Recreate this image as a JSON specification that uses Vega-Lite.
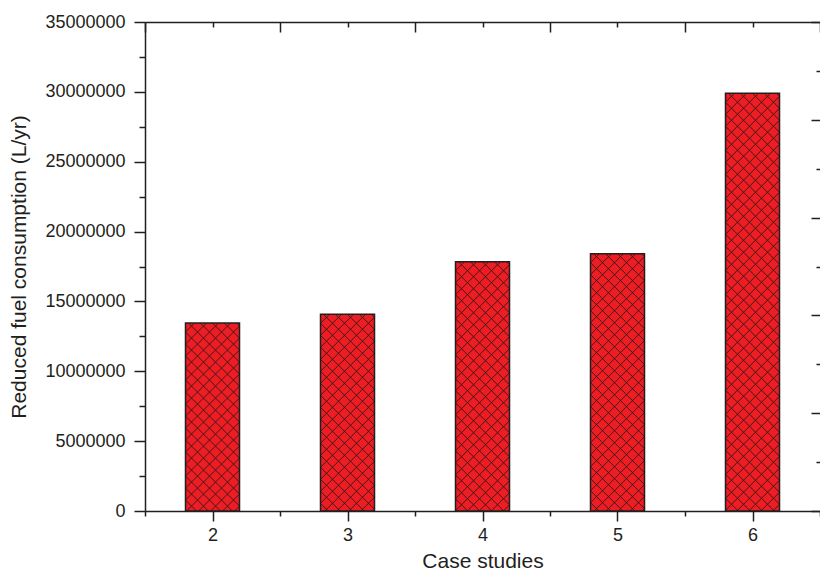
{
  "$schema": "https://vega.github.io/schema/vega-lite/v6.json",
  "autosize": "none",
  "width": 675,
  "height": 489,
  "padding": {"left": 145, "top": 22, "right": 0, "bottom": 66},
  "background": "white",
  "config": {"view": {"stroke": null}},
  "data": {"values": [
    {"case": 2, "fuel": 13450000},
    {"case": 3, "fuel": 14080000},
    {"case": 4, "fuel": 17840000},
    {"case": 5, "fuel": 18420000},
    {"case": 6, "fuel": 29900000}
  ]},
  "resolve": {"axis": {"x": "independent", "y": "independent"}},
  "layer": [
    {
      "mark": {"type": "bar", "width": 54, "fill": "#EE1D23", "stroke": null},
      "encoding": {
        "x": {"field": "case", "type": "quantitative",
          "scale": {"domain": [1.5, 6.5], "nice": false, "zero": false, "padding": 0},
          "axis": {"orient": "bottom", "values": [1.5, 2, 2.5, 3, 3.5, 4, 4.5, 5, 5.5, 6, 6.5],
            "tickSize": {"condition": {"test": "datum.value % 1 === 0", "value": 10}, "value": 5},
            "labelExpr": "datum.value % 1 === 0 ? format(datum.value, 'd') : ''",
            "labelFont": "Liberation Sans", "labelFontSize": 18, "labelColor": "#231f20", "labelPadding": 5,
            "labelOverlap": false, "labelFlush": false, "grid": false,
            "domainColor": "#231f20", "domainWidth": 1.5, "tickColor": "#231f20", "tickWidth": 1.5,
            "title": "Case studies", "titleFont": "Liberation Sans", "titleFontSize": 21, "titleFontWeight": "normal",
            "titleColor": "#231f20", "titlePadding": 6}},
        "y": {"field": "fuel", "type": "quantitative",
          "scale": {"domain": [0, 35000000], "nice": false, "zero": true, "padding": 0},
          "axis": {"orient": "left", "values": [0, 2500000, 5000000, 7500000, 10000000, 12500000, 15000000, 17500000, 20000000, 22500000, 25000000, 27500000, 30000000, 32500000, 35000000],
            "tickSize": {"condition": {"test": "datum.value % 5000000 === 0", "value": 11}, "value": 6},
            "labelExpr": "datum.value % 5000000 === 0 ? format(datum.value, 'd') : ''",
            "labelFont": "Liberation Sans", "labelFontSize": 18, "labelColor": "#231f20", "labelPadding": 9,
            "labelOverlap": false, "labelFlush": false, "grid": false,
            "domainColor": "#231f20", "domainWidth": 1.5, "tickColor": "#231f20", "tickWidth": 1.5,
            "title": "Reduced fuel consumption (L/yr)", "titleFont": "Liberation Sans", "titleFontSize": 21, "titleFontWeight": "normal",
            "titleColor": "#231f20", "titlePadding": 15}}
      }
    },
    {
      "mark": {"type": "point", "filled": false, "size": 4, "opacity": 1, "stroke": "#2b1a1a", "strokeWidth": 0.9, "clip": true,
        "shape": "M 24 0 L 27 3 l -54 54 l 54 54 l -54 54 l 54 54 l -54 54 l 54 54 l -54 54 l 54 54 l -54 54 M 12 0 L 27 15 l -54 54 l 54 54 l -54 54 l 54 54 l -54 54 l 54 54 l -54 54 l 54 54 l -54 54 M 0 0 L 27 27 l -54 54 l 54 54 l -54 54 l 54 54 l -54 54 l 54 54 l -54 54 l 54 54 l -54 54 M -12 0 L 27 39 l -54 54 l 54 54 l -54 54 l 54 54 l -54 54 l 54 54 l -54 54 l 54 54 l -54 54 M -24 0 L 27 51 l -54 54 l 54 54 l -54 54 l 54 54 l -54 54 l 54 54 l -54 54 l 54 54 l -54 54 M -18 0 L -27 9 l 54 54 l -54 54 l 54 54 l -54 54 l 54 54 l -54 54 l 54 54 l -54 54 l 54 54 M -6 0 L -27 21 l 54 54 l -54 54 l 54 54 l -54 54 l 54 54 l -54 54 l 54 54 l -54 54 l 54 54 M 6 0 L -27 33 l 54 54 l -54 54 l 54 54 l -54 54 l 54 54 l -54 54 l 54 54 l -54 54 l 54 54 M 18 0 L -27 45 l 54 54 l -54 54 l 54 54 l -54 54 l 54 54 l -54 54 l 54 54 l -54 54 l 54 54"},
      "encoding": {
        "x": {"field": "case", "type": "quantitative",
          "scale": {"domain": [1.5, 6.5], "nice": false, "zero": false, "padding": 0},
          "axis": {"orient": "top", "values": [1.5, 2, 2.5, 3, 3.5, 4, 4.5, 5, 5.5, 6, 6.5],
            "tickSize": {"condition": {"test": "datum.value % 1 === 0", "value": -5}, "value": -10},
            "labels": false, "grid": false, "title": null,
            "domainColor": "#231f20", "domainWidth": 1.5, "tickColor": "#231f20", "tickWidth": 1.5}},
        "y": {"field": "fuel", "type": "quantitative",
          "scale": {"domain": [0, 35000000], "nice": false, "zero": true, "padding": 0},
          "axis": {"orient": "right", "values": [0, 3500000, 7000000, 10500000, 14000000, 17500000, 21000000, 24500000, 28000000, 31500000, 35000000],
            "tickSize": {"condition": {"test": "(datum.value / 3500000) % 2 === 0", "value": -9}, "value": -4},
            "labels": false, "grid": false, "title": null, "domain": false,
            "tickColor": "#231f20", "tickWidth": 1.5}}
      }
    },
    {
      "mark": {"type": "bar", "width": 54, "fill": null, "fillOpacity": 0, "stroke": "#231f20", "strokeWidth": 1.5},
      "encoding": {
        "x": {"field": "case", "type": "quantitative", "scale": {"domain": [1.5, 6.5], "nice": false, "zero": false, "padding": 0}, "axis": null},
        "y": {"field": "fuel", "type": "quantitative", "scale": {"domain": [0, 35000000], "nice": false, "zero": true, "padding": 0}, "axis": null}
      }
    }
  ]
}
